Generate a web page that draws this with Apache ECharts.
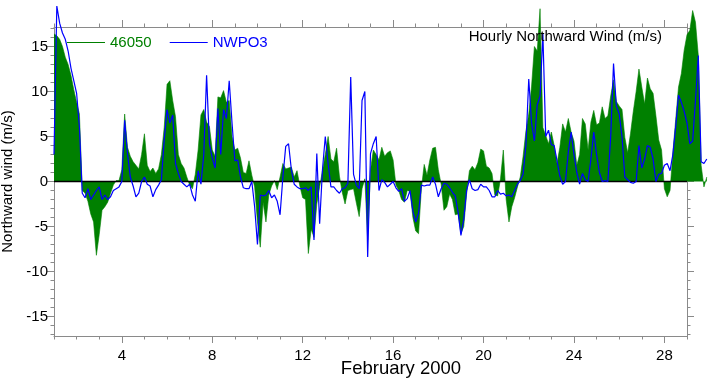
<!DOCTYPE html>
<html><head><meta charset="utf-8">
<script src="https://cdn.jsdelivr.net/npm/echarts@6/dist/echarts.min.js"></script>
<style>html,body{margin:0;padding:0;background:#fff}#c{width:709px;height:380px}</style>
</head><body><div id="c"></div>
<script>
// Time grid: Feb 1 2000 00:00 (day 1.0) in 3-hour steps
const startDay = 1;
const stepDays = 3 / 24;

// Buoy 46050 northward wind (m/s), 3-hourly
const buoy46050 = [
16.4,16.2,15.8,15,13.8,13,11.8,10.2,8.8,7.5,
-1,-1.3,-2.2,-3.6,-4.5,-8.2,-5.9,-3.2,-2.8,-2.3,
-1.3,-0.4,0.1,0.1,1.3,7.5,3.8,2.8,2.2,1.8,
1.4,3,5.3,1.8,1.1,1.5,0.9,1.4,3,6,
10.8,11.2,9,7.2,3,2,1.5,0.5,-0.4,-0.8,
0.8,3.5,7.4,8,6.6,6.1,3.5,2.8,9.4,9.3,
10.1,8.8,9,5,3.5,3.7,2.6,1,0.9,2.3,
0.7,-0.6,-4.5,-7.3,-2.3,-4.5,-1.5,-0.5,0.1,-0.9,
0.5,2,1.4,1.5,1.6,0.5,1.2,-0.5,-1.8,-2,
-8,-5.3,-6.2,-2.5,-0.6,1.2,3,5,2.5,2.2,
3.7,0.6,-1.2,-2.5,-1,-0.9,-0.8,-2.4,-3.9,-0.8,
0.3,-6.5,1.3,3.5,3,2.4,3.8,2.8,3.2,3.4,
2.4,-0.4,-1,-2,-2.3,-1,-1.1,-4,-5.5,-5.8,
-0.8,1.9,0.7,2.4,3.7,3.8,1.3,-0.3,-3.2,-2.8,
-1.4,-2,-3.7,-3.6,-5.8,-5,-1.4,1.2,1.7,1.3,
2.1,3.6,3.4,1.7,1.5,0.9,-1.5,-1.6,0.3,3.5,
-2,-4.5,-2.8,-1.8,-0.6,0.5,2.8,5.6,7.5,10.6,
15,14.5,19.2,6,5.1,4.2,5.5,4,2,3.8,
6.4,5.5,7,5.5,4.5,1.8,3,7,6.4,3.5,
6.6,7.9,6.3,6.5,8.3,7,7.3,9.5,11.3,8.9,
8.4,8,4.9,3.2,5.3,7.8,10,12.5,10.5,8.6,
11.5,10.3,9.8,7.3,4.6,3.5,-0.8,-1.7,-1,3.2,
6.9,10.5,12,14.6,16.3,16.8,19,17.7,14,1.8,
-0.6,0.5
];

// NWPO3 (Newport, OR) northward wind (m/s), 3-hourly
const nwpo3 = [
3,19.5,17.6,16.5,15.8,14.5,12.6,11.2,9.8,6,
-1.3,-1.8,-0.8,-2,-1.5,-1,-0.6,-2,-1.5,-2,
-1.7,-1,-0.8,-0.6,0,6.8,3.1,0.5,-0.5,-1.7,
-1.3,0,0.5,-0.3,-0.5,-1.7,-0.9,-0.4,0.2,4.6,
8,6.5,7.4,2,0.9,0,-0.3,-0.6,-0.3,-1.5,
-2.2,1.2,-0.3,3,11.8,4.2,2.6,1.5,8.1,3,
8,7,11.2,6.5,2.3,2.4,0.5,-0.7,-0.8,-0.8,
0,-2.8,-7,-1.5,-1.6,-1.5,-1,-1.8,-1.5,-2.2,
-3.7,0.5,3.9,4.2,1.3,-0.3,-0.6,-0.8,-0.8,-0.7,
-1,-0.6,-6.5,3.1,-4.7,1.3,5,2,-0.6,-0.6,
-1,-1.3,-0.8,-0.7,-0.2,11.6,0.8,-0.4,-0.8,9,
10,-8.4,3.1,4.2,5,-1,0.2,-0.1,-0.6,-0.3,
0,-0.7,-1.1,-0.8,-2.2,-1.9,-1,-3.3,-4.5,-3.5,
-0.4,-0.5,-0.4,-0.4,0.5,-0.3,-1.7,-0.8,-0.2,-0.3,
-0.7,-1.2,-1.6,-3.4,-6,-4.2,-1,0.2,-0.8,-1,
-0.9,-0.3,-0.6,-0.6,-1,-1.7,-1.7,-1,-1.4,-1.3,
-1.6,-1.5,-1.7,-1,-0.3,0.1,0.8,4,11.4,6.5,
4.5,8.5,9.5,16.4,5,5.7,4.1,4,2.3,0.6,
-0.3,0,3.3,5.5,3,1,-0.3,0.9,0.2,0,
2.5,5.5,3,1,0,0.1,0,5,13.1,8.4,
7.5,5,0.5,0.2,-0.1,-0.2,0,4,1.5,2.5,
4,3.8,2.5,0,0.8,0.9,1.8,2,1.2,3,
6.1,9.6,8.8,7.8,6.5,4.2,4.5,9,14,2.2,
2,2.5
];

const seriesNames = ['46050', 'NWPO3'];
const xMajorTicks = [4, 8, 12, 16, 20, 24, 28];
const xMinorTicks = [1,2,3,4,5,6,7,8,9,10,11,12,13,14,15,16,17,18,19,20,21,22,23,24,25,26,27,28,29];
const yMajorTicks = [-15, -10, -5, 0, 5, 10, 15];
const yMinorTicks = [-17,-16,-15,-14,-13,-12,-11,-10,-9,-8,-7,-6,-5,-4,-3,-2,-1,0,1,2,3,4,5,6,7,8,9,10,11,12,13,14,15,16,17];

const xMin = 1, xMax = 29, yMin = -17.17, yMax = 17.17;
const FONT = '"Liberation Sans", Arial, Helvetica, sans-serif';
const AXC = '#8a8a8a';
const GREEN = '#008000', BLUE = '#0000ff';

const toXY = arr => arr.map((v, i) => [startDay + i * stepDays, v]);

// axes frame (days 1..29) and a wider data layer that lets the last day run past the frame
const frame = {left: 54, top: 27, width: 633, height: 309, containLabel: false, outerBoundsMode: 'none'};
const dataGrid = {left: 54, top: 27, width: 655, height: 309, containLabel: false, outerBoundsMode: 'none'};
const dataXMax = xMin + (xMax - xMin) * dataGrid.width / frame.width;

function xAx(grid, pos, ticks, len, labels, showLine) {
  return {
    type: 'value', gridIndex: grid, position: pos, min: xMin, max: xMax,
    axisLine: {show: showLine, onZero: false, lineStyle: {color: AXC, width: 1}},
    axisTick: {show: true, customValues: ticks, length: len, inside: false, lineStyle: {color: AXC, width: 1}},
    axisLabel: labels ? {show: true, customValues: xMajorTicks, margin: 12, fontSize: 15, color: '#000', fontFamily: FONT} : {show: false},
    splitLine: {show: false}
  };
}
function yAx(grid, pos, ticks, len, labels, showLine, extra) {
  return Object.assign({
    type: 'value', gridIndex: grid, position: pos, min: yMin, max: yMax,
    axisLine: {show: showLine, onZero: false, lineStyle: {color: AXC, width: 1}},
    axisTick: {show: true, customValues: ticks, length: len, inside: false, lineStyle: {color: AXC, width: 1}},
    axisLabel: labels ? {show: true, customValues: yMajorTicks, margin: 6, fontSize: 15, color: '#000', fontFamily: FONT} : {show: false},
    splitLine: {show: false}
  }, extra || {});
}
const hiddenAx = (grid, min, max) => ({
  type: 'value', gridIndex: grid, min: min, max: max,
  axisLine: {show: false}, axisTick: {show: false}, axisLabel: {show: false}, splitLine: {show: false}
});

const chart = echarts.init(document.getElementById('c'), null, {renderer: 'canvas'});
chart.setOption({
  animation: false,
  backgroundColor: '#fff',
  grid: [frame, Object.assign({}, frame), dataGrid],
  xAxis: [
    xAx(0, 'bottom', xMajorTicks, 7, true, true),
    xAx(0, 'top', xMajorTicks, 7, false, true),
    xAx(1, 'bottom', xMinorTicks, 3.5, false, false),
    xAx(1, 'top', xMinorTicks, 3.5, false, false),
    hiddenAx(2, xMin, dataXMax)
  ],
  yAxis: [
    yAx(0, 'left', yMajorTicks, 7, true, true, {
      name: 'Northward wind (m/s)', nameLocation: 'middle', nameGap: 37,
      nameTextStyle: {fontSize: 15, color: '#000', fontFamily: FONT}
    }),
    yAx(0, 'right', yMajorTicks, 7, false, true),
    yAx(1, 'left', yMinorTicks, 3.5, false, false),
    yAx(1, 'right', yMinorTicks, 3.5, false, false),
    hiddenAx(2, yMin, yMax)
  ],
  legend: {
    left: 62, top: 30, icon: 'rect', itemWidth: 38, itemHeight: 1.2, itemGap: 18,
    selectedMode: false,
    textStyle: {fontSize: 15, fontFamily: FONT},
    data: [
      {name: seriesNames[0], textStyle: {color: GREEN}},
      {name: seriesNames[1], textStyle: {color: BLUE}}
    ]
  },
  graphic: [
    {type: 'text', x: 662, y: 37, z: 10, style: {text: 'Hourly Northward Wind (m/s)', align: 'right', verticalAlign: 'middle', fontSize: 15, fontFamily: FONT, fill: '#000'}},
    {type: 'text', x: 401, y: 369, z: 10, style: {text: 'February 2000', align: 'center', verticalAlign: 'middle', fontSize: 18.5, fontFamily: FONT, fill: '#000'}}
  ],
  series: [
    {
      name: seriesNames[0], type: 'line', xAxisIndex: 4, yAxisIndex: 4, z: 2,
      data: toXY(buoy46050), showSymbol: false, symbol: 'none', clip: false,
      color: GREEN, lineStyle: {color: GREEN, width: 0.6},
      areaStyle: {color: GREEN, opacity: 1, origin: 'auto'}
    },
    {
      name: 'zero', type: 'line', xAxisIndex: 4, yAxisIndex: 4, z: 3,
      data: [[xMin, 0], [xMax, 0]], showSymbol: false, symbol: 'none', silent: true,
      lineStyle: {color: '#000', width: 1.5}
    },
    {
      name: seriesNames[1], type: 'line', xAxisIndex: 4, yAxisIndex: 4, z: 4,
      data: toXY(nwpo3), showSymbol: false, symbol: 'none', clip: false,
      color: BLUE, lineStyle: {color: BLUE, width: 1.2}
    }
  ]
});
</script></body></html>
